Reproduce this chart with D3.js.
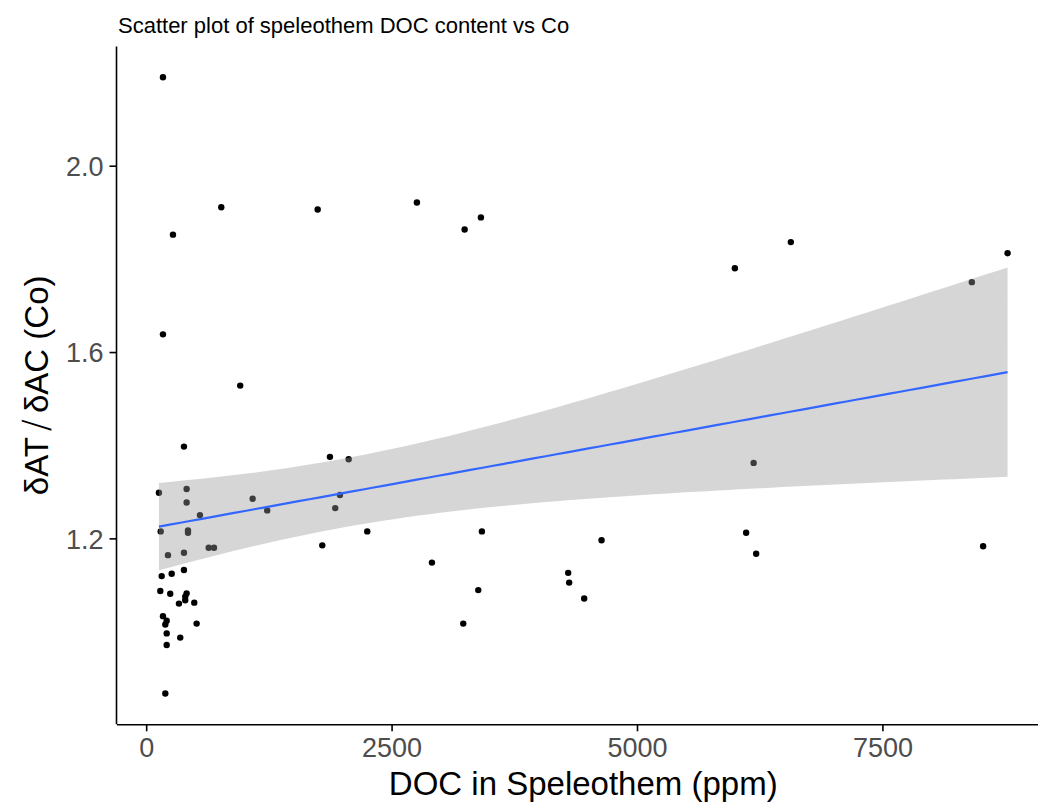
<!DOCTYPE html>
<html>
<head>
<meta charset="utf-8">
<script src="https://cdn.jsdelivr.net/npm/d3@7"></script>
<style>
  html, body { margin: 0; padding: 0; background: #fff; }
  svg { display: block; font-family: "Liberation Sans", Arial, sans-serif; }
</style>
</head>
<body>
<svg id="chart" width="1038" height="802"></svg>
<script>
// DOC content (ppm) and dAT/dAC ratio for Co
var docPpm = [
  171, 765, 273, 171, 958, 385, 130, 412, 412, 1085,
  548, 148, 426, 426, 637, 691, 222, 385, 385, 158,
  260, 144, 245, 412, 398, 398, 334, 490, 171, 209,
  195, 514, 209, 347, 209, 195, 1233, 1747, 2758, 3410,
  3244, 1872, 2063, 1974, 1926, 2252, 3420, 1794, 2911, 4639,
  4299, 4309, 3383, 4462, 3230, 6567, 5997, 8775, 8411, 6188,
  6112, 6214, 8526
];
var ratioCo = [
  2.190, 1.911, 1.852, 1.638, 1.528, 1.397, 1.298, 1.306, 1.277, 1.285,
  1.250, 1.215, 1.217, 1.212, 1.180, 1.180, 1.164, 1.169, 1.132, 1.119,
  1.124, 1.087, 1.081, 1.082, 1.075, 1.067, 1.060, 1.062, 1.033, 1.023,
  1.015, 1.017, 0.996, 0.987, 0.971, 0.867, 1.260, 1.906, 1.921, 1.889,
  1.863, 1.375, 1.370, 1.293, 1.265, 1.215, 1.215, 1.185, 1.148, 1.196,
  1.126, 1.105, 1.089, 1.071, 1.017, 1.836, 1.780, 1.812, 1.750, 1.362,
  1.212, 1.167, 1.183
];
var xTicks = [0, 2500, 5000, 7500];
var yTicks = [1.2, 1.6, 2.0];

var titleText = 'Scatter plot of speleothem DOC content vs Co';
var xTitle = 'DOC in Speleothem (ppm)';

var panel = {left: 116.5, right: 1050, top: 46.4, bottom: 724.3};

var svg = d3.select('#chart');

function expand(ext) {
	var pad = (ext[1] - ext[0]) * 0.05;
	return [ext[0] - pad, ext[1] + pad];
}

var x = d3.scaleLinear().domain(expand(d3.extent(docPpm))).range([panel.left, panel.right]);
var y = d3.scaleLinear().domain(expand(d3.extent(ratioCo))).range([panel.bottom, panel.top]);

var pts = docPpm.map(function(d, i) { return {x: d, y: ratioCo[i]}; });

// points first, the smoother ribbon sits on top of them (like geom_point + geom_smooth)
svg.append('g')
	.selectAll('circle')
	.data(pts)
	.enter()
	.append('circle')
	.attr('cx', function(d) { return x(d.x); })
	.attr('cy', function(d) { return y(d.y); })
	.attr('r', 3.2)
	.attr('fill', '#000');

// linear fit with 95% confidence band
var n = pts.length;
var mx = d3.mean(docPpm), my = d3.mean(ratioCo);
var sxx = d3.sum(docPpm, function(d) { return (d - mx) * (d - mx); });
var sxy = d3.sum(pts, function(d) { return (d.x - mx) * (d.y - my); });
var slope = sxy / sxx;
var icpt = my - slope * mx;
var rss = d3.sum(pts, function(d) { var r = d.y - (icpt + slope * d.x); return r * r; });
var s = Math.sqrt(rss / (n - 2));
var df = n - 2, z = 1.959964;
var tq = z + (Math.pow(z, 3) + z) / (4 * df) + (5 * Math.pow(z, 5) + 16 * Math.pow(z, 3) + 3 * z) / (96 * df * df);

var xExt = d3.extent(docPpm);
var fit = d3.range(80).map(function(i) {
	var xv = xExt[0] + (xExt[1] - xExt[0]) * i / 79;
	var yv = icpt + slope * xv;
	var se = s * Math.sqrt(1 / n + (xv - mx) * (xv - mx) / sxx);
	return {x: xv, y: yv, lo: yv - tq * se, hi: yv + tq * se};
});

svg.append('path')
	.datum(fit)
	.attr('d', d3.area()
		.x(function(d) { return x(d.x); })
		.y0(function(d) { return y(d.lo); })
		.y1(function(d) { return y(d.hi); }))
	.attr('fill', '#999999')
	.attr('fill-opacity', 0.4);

svg.append('path')
	.datum(fit)
	.attr('d', d3.line()
		.x(function(d) { return x(d.x); })
		.y(function(d) { return y(d.y); }))
	.attr('fill', 'none')
	.attr('stroke', '#3366FF')
	.attr('stroke-width', 2.2);

// axes
var xAxis = svg.append('g')
	.attr('transform', 'translate(0,' + panel.bottom + ')')
	.call(d3.axisBottom(x).tickValues(xTicks).tickFormat(d3.format('d')).tickSizeInner(7).tickSizeOuter(0).tickPadding(5));

var yAxis = svg.append('g')
	.attr('transform', 'translate(' + panel.left + ',0)')
	.call(d3.axisLeft(y).tickValues(yTicks).tickFormat(d3.format('.1f')).tickSizeInner(7).tickSizeOuter(0).tickPadding(6));

[xAxis, yAxis].forEach(function(ax) {
	ax.select('.domain').attr('stroke', '#000').attr('stroke-width', 1.6);
	ax.selectAll('.tick line').attr('stroke', '#000').attr('stroke-width', 1.6);
	ax.selectAll('.tick text')
		.attr('fill', '#4d4d4d')
		.style('font-size', '27px')
		.style('font-family', '"Liberation Sans", Arial, sans-serif');
});
yAxis.selectAll('.tick text').attr('dy', '0.36em');
xAxis.selectAll('.tick text').attr('dy', '0.75em');

// extend y axis line to the top of the panel
yAxis.select('.domain').attr('d', 'M0,' + panel.top + 'V' + panel.bottom);

// titles
svg.append('text')
	.attr('x', 118)
	.attr('y', 33)
	.attr('font-size', 22)
	.attr('fill', '#000')
	.text(titleText);

svg.append('text')
	.attr('x', (panel.left + panel.right) / 2)
	.attr('y', 795)
	.attr('text-anchor', 'middle')
	.attr('font-size', 33)
	.attr('fill', '#000')
	.text(xTitle);

var yt = svg.append('text')
	.attr('transform', 'translate(48,' + ((panel.top + panel.bottom) / 2) + ') rotate(-90)')
	.attr('text-anchor', 'middle')
	.attr('font-size', 33)
	.attr('fill', '#000');
yt.append('tspan').text('\u03B4AT');
yt.append('tspan').attr('dx', 6).style('font-family', '"DejaVu Sans", sans-serif').attr('font-weight', 200).attr('font-size', 36).text('\u2215');
yt.append('tspan').attr('dx', 6).text('\u03B4AC (Co)');
</script>
</body>
</html>
